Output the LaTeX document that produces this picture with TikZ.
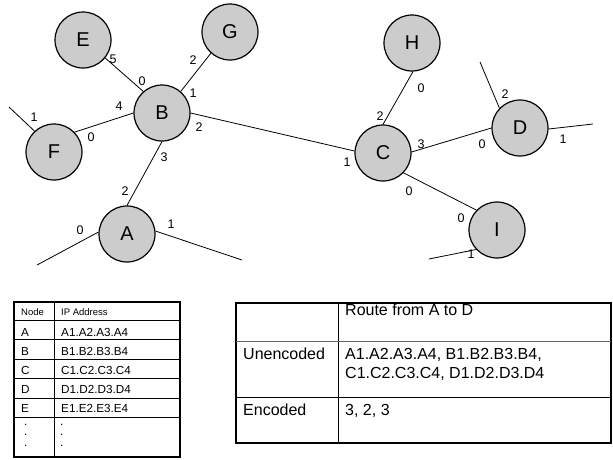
\documentclass[tikz,border=0pt]{standalone}
\usepackage{fontspec}
\setmainfont{Liberation Sans}
\begin{document}
\begin{tikzpicture}[x=1pt,y=-1pt,
router/.style={circle,draw,fill=black!20,line width=1.2pt,minimum size=56pt,inner sep=0pt,font=\fontsize{20}{20}\selectfont},
port/.style={inner sep=0pt,font=\fontsize{12.5}{12.5}\selectfont},
link/.style={line width=0.8pt},
frame/.style={line width=1.6pt},
rule/.style={line width=0.8pt},
smallcell/.style={inner sep=0pt,anchor=base west,font=\fontsize{11.7}{10.5}\selectfont},
headcell/.style={inner sep=0pt,anchor=base west,font=\fontsize{9.5}{9.5}\selectfont},
bigcell/.style={inner sep=0pt,anchor=base west,font=\fontsize{16}{19.5}\selectfont}]
\useasboundingbox (0,0) rectangle (613,459);

% routers
\draw (83,40) node[router] (E) {E};
\draw (230,32) node[router] (G) {G};
\draw (162,113) node[router] (B) {B};
\draw (54,152) node[router] (F) {F};
\draw (127,234) node[router] (A) {A};
\draw (412,43) node[router] (H) {H};
\draw (383,153) node[router] (C) {C};
\draw (520,128) node[router] (D) {D};
\draw (497,230) node[router] (I) {I};

% free ends
\coordinate (f1) at (9,107);
\coordinate (a0) at (37,265);
\coordinate (a1) at (242,260);
\coordinate (d2) at (480,62);
\coordinate (d1) at (593,124);
\coordinate (i1) at (429,259);

% links
\draw[link] (E.-39) -- (B.131);
\draw[link] (G.228) -- (B.49);
\draw[link] (F.44) -- (B.180);
\draw[link] (A.90) -- (B.-90);
\draw[link] (B.0) -- (C.176);
\draw[link] (C.90) -- (H.-88);
\draw[link] (C.2) -- (D.180);
\draw[link] (C.-44) -- (I.136);
\draw[link] (F.133) -- (f1);
\draw[link] (A.176) -- (a0);
\draw[link] (A.6) -- (a1);
\draw[link] (D.136) -- (d2);
\draw[link] (D.-2) -- (d1);
\draw[link] (I.-137) -- (i1);

% port numbers
\draw (113,59) node[port] (pE5) {5};
\draw (142,81) node[port] (pB0) {0};
\draw (193,60) node[port] (pG2) {2};
\draw (193,93) node[port] (pB1) {1};
\draw (119,106) node[port] (pB4) {4};
\draw (199,127) node[port] (pB2) {2};
\draw (164,157) node[port] (pB3) {3};
\draw (91,137) node[port] (pF0) {0};
\draw (34,117) node[port] (pF1) {1};
\draw (125,191) node[port] (pA2) {2};
\draw (80,230) node[port] (pA0) {0};
\draw (171,224) node[port] (pA1) {1};
\draw (421,88) node[port] (pH0) {0};
\draw (380,116) node[port] (pC2) {2};
\draw (421,144) node[port] (pC3) {3};
\draw (347,162) node[port] (pC1) {1};
\draw (409,191) node[port] (pC0) {0};
\draw (482,144) node[port] (pD0) {0};
\draw (505,94) node[port] (pD2) {2};
\draw (563,139) node[port] (pD1) {1};
\draw (461,218) node[port] (pI0) {0};
\draw (471,254) node[port] (pI1) {1};

% address table
\draw[frame] (14,302) rectangle (180,457);
\draw[rule] (54,302) -- (54,457);
\foreach \y in {320,339.5,359,378.5,398,417.5}
  \draw[rule] (14,\y) -- (180,\y);
\draw (21,315) node[headcell] (hnode) {Node};
\draw (61,315) node[headcell] (hip) {IP Address};
\draw (21,336) node[smallcell] (nA) {A};
\draw (61,336) node[smallcell] (ipA) {A1.A2.A3.A4};
\draw (21,355) node[smallcell] (nB) {B};
\draw (61,355) node[smallcell] (ipB) {B1.B2.B3.B4};
\draw (21,374) node[smallcell] (nC) {C};
\draw (61,374) node[smallcell] (ipC) {C1.C2.C3.C4};
\draw (21,393.5) node[smallcell] (nD) {D};
\draw (61,393.5) node[smallcell] (ipD) {D1.D2.D3.D4};
\draw (21,412.5) node[smallcell] (nE) {E};
\draw (61,412.5) node[smallcell] (ipE) {E1.E2.E3.E4};
\draw (24,424) node[smallcell,anchor=north west,align=left] (ndots) {.\\.\\.};
\draw (60,424) node[smallcell,anchor=north west,align=left] (ipdots) {.\\.\\.};

% route table
\draw[frame] (236,303) rectangle (611,443);
\draw[rule] (338,303) -- (338,443);
\draw[rule,black!60] (236,341) -- (611,341);
\draw[rule] (236,397) -- (611,397);
\draw (345,315) node[bigcell] (route) {Route from A to D};
\draw (243,359) node[bigcell] (unenc) {Unencoded};
\draw (345,359) node[bigcell] (unencA) {A1.A2.A3.A4, B1.B2.B3.B4,};
\draw (345,378.5) node[bigcell] (unencB) {C1.C2.C3.C4, D1.D2.D3.D4};
\draw (243,415) node[bigcell] (enc) {Encoded};
\draw (345,415) node[bigcell] (encval) {3, 2, 3};

\end{tikzpicture}
\end{document}
